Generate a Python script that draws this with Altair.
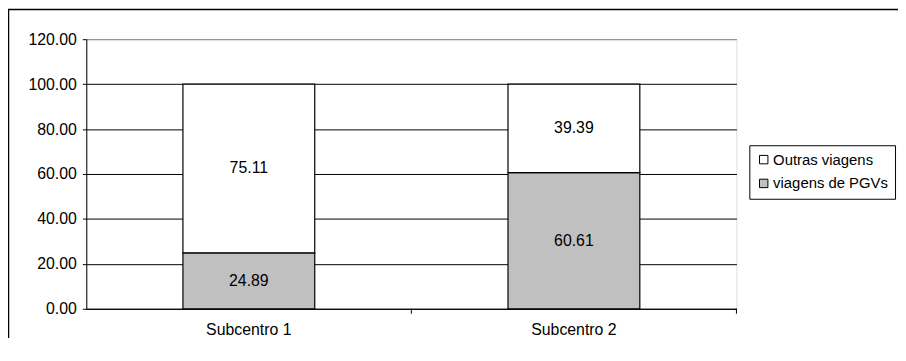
import altair as alt
import pandas as pd

categories = ["Subcentro 1", "Subcentro 2"]
series_names = ["viagens de PGVs", "Outras viagens"]
pgv_values = [24.89, 60.61]
outras_values = [75.11, 39.39]
y_ticks = [0, 20, 40, 60, 80, 100, 120]

rows = []
for i, c in enumerate(categories):
    rows.append({"cat": c, "series": series_names[0], "value": pgv_values[i], "ord": 0})
    rows.append({"cat": c, "series": series_names[1], "value": outras_values[i], "ord": 1})
df = pd.DataFrame(rows)

FONT = "Liberation Sans"
FS = 16
W, H = 656, 272

x_enc = alt.X("cat:N", sort=categories,
              scale=alt.Scale(paddingInner=0, paddingOuter=0),
              axis=alt.Axis(title=None, ticks=False, labelAngle=0, labelPadding=13,
                            labelFontSize=FS, labelColor="black", labelFont=FONT,
                            domainColor="black", domainWidth=1))

y_scale = alt.Scale(domain=[0, 120], nice=False)

bars = alt.Chart(df).mark_bar(width=133, stroke="black", strokeWidth=1.2).encode(
    x=x_enc,
    y=alt.Y("value:Q", stack="zero", scale=y_scale,
            axis=alt.Axis(title=None, values=y_ticks, format=".2f", tickSize=4,
                          tickColor="black", domainColor="black",
                          gridColor=alt.condition("datum.value == 120",
                                                  alt.value("#808080"), alt.value("black")),
                          gridWidth=1, labelFontSize=FS, labelColor="black",
                          labelFont=FONT, labelPadding=6)),
    color=alt.Color("series:N",
                    scale=alt.Scale(domain=["Outras viagens", "viagens de PGVs"],
                                    range=["#ffffff", "#c0c0c0"]),
                    legend=alt.Legend(title=None, orient="none", legendX=669, legendY=107,
                                      strokeColor="black", padding=7, rowPadding=8,
                                      symbolType="square", symbolSize=72,
                                      symbolStrokeColor="black", symbolStrokeWidth=1,
                                      labelFontSize=15, labelFont=FONT, labelColor="black",
                                      labelOffset=2)),
    order=alt.Order("ord:Q"),
)

labels = alt.Chart(df).transform_stack(
    stack="value", groupby=["cat"], as_=["v0", "v1"], sort=[alt.SortField("ord")]
).transform_calculate(
    mid="(datum.v0 + datum.v1) / 2"
).mark_text(fontSize=FS, font=FONT, color="black").encode(
    x=alt.X("cat:N", sort=categories),
    y=alt.Y("mid:Q", scale=y_scale),
    text=alt.Text("value:Q", format=".2f"),
)

tick_df = pd.DataFrame({"cat": ["Subcentro 2", "Subcentro 2"], "band": [0, 1]})
tick_mid = alt.Chart(tick_df).transform_filter("datum.band == 0").mark_rule(
    color="black", strokeWidth=1).encode(
    x=alt.X("cat:N", sort=categories, bandPosition=0),
    y=alt.value(H), y2=alt.value(H + 5))
tick_end = alt.Chart(tick_df).transform_filter("datum.band == 1").mark_rule(
    color="black", strokeWidth=1).encode(
    x=alt.X("cat:N", sort=categories, bandPosition=1),
    y=alt.value(H), y2=alt.value(H + 5))

frame = alt.Chart(tick_df).transform_filter("datum.band == 0").mark_rect(
    fill=None, stroke="black", strokeWidth=1.5, clip=False).encode(
    x=alt.value(-78.5), x2=alt.value(2000), y=alt.value(-30), y2=alt.value(2000))

chart = alt.layer(frame, bars, labels, tick_mid, tick_end).resolve_scale(x="shared").properties(
    width=W, height=H,
    autosize=alt.AutoSizeParams(type="none"),
    padding={"left": 79, "top": 30, "right": 163, "bottom": 28},
).configure_view(stroke="#808080", strokeWidth=1).configure(background="white")

chart.save("out.html", embed_options={"renderer": "svg", "actions": False})
